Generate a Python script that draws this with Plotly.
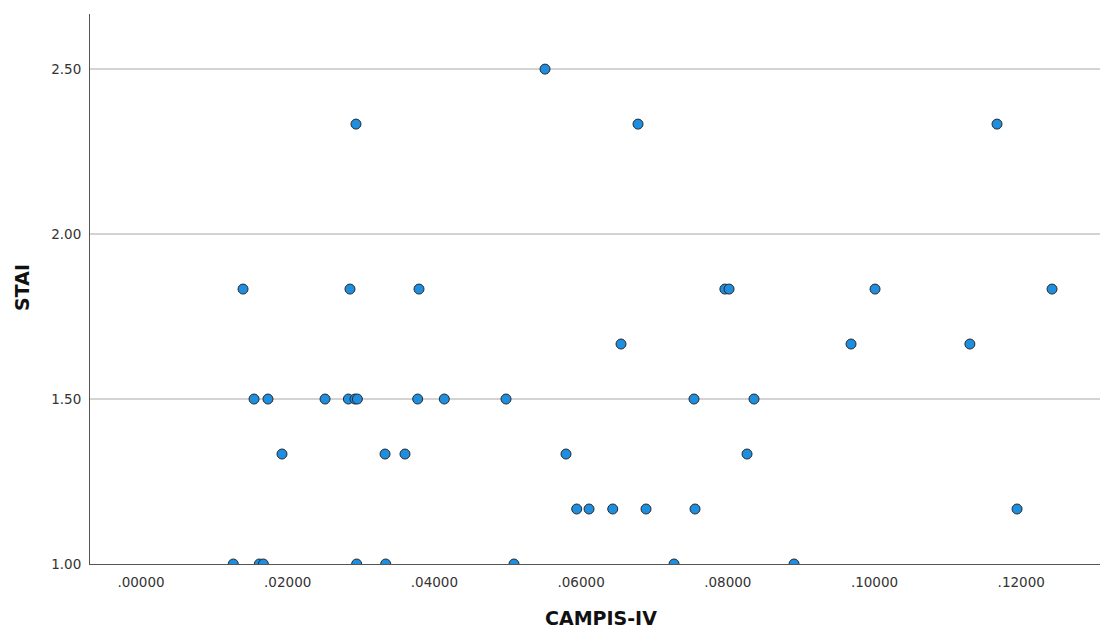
import plotly.graph_objects as go

# CAMPIS-IV (x) and STAI (y) values
campis_iv = [
    0.05508,
    0.02931, 0.06776, 0.11670,
    0.01391, 0.02849, 0.03790, 0.07960, 0.08017, 0.10007, 0.12420,
    0.06544, 0.09680, 0.11300,
    0.01541, 0.01731, 0.02509, 0.02827, 0.02918, 0.02950, 0.03772, 0.04135, 0.04976, 0.07539, 0.08357,
    0.01922, 0.03327, 0.03599, 0.05794, 0.08262,
    0.05940, 0.06108, 0.06431, 0.06885, 0.07553, 0.11943,
    0.01258, 0.01613, 0.01668, 0.02940, 0.03336, 0.05085, 0.07267, 0.08903,
]
stai = [
    2.5,
    2.3333, 2.3333, 2.3333,
    1.8333, 1.8333, 1.8333, 1.8333, 1.8333, 1.8333, 1.8333,
    1.6667, 1.6667, 1.6667,
    1.5, 1.5, 1.5, 1.5, 1.5, 1.5, 1.5, 1.5, 1.5, 1.5, 1.5,
    1.3333, 1.3333, 1.3333, 1.3333, 1.3333,
    1.1667, 1.1667, 1.1667, 1.1667, 1.1667, 1.1667,
    1.0, 1.0, 1.0, 1.0, 1.0, 1.0, 1.0, 1.0,
]

x_ticks = [0.0, 0.02, 0.04, 0.06, 0.08, 0.10, 0.12]
x_tick_text = [".00000", ".02000", ".04000", ".06000", ".08000", ".10000", ".12000"]
y_ticks = [1.0, 1.5, 2.0, 2.5]
y_tick_text = ["1.00", "1.50", "2.00", "2.50"]

x_title = "CAMPIS-IV"
y_title = "STAI"

fig = go.Figure()
fig.add_trace(go.Scatter(
    x=campis_iv, y=stai, mode="markers",
    marker=dict(size=10, color="#1e8ee0", line=dict(color="#2a2a2a", width=1)),
    showlegend=False, cliponaxis=True,
))

tick_font = dict(family="DejaVu Sans", size=13.5, color="#333333")
fig.update_layout(
    width=1100, height=630,
    margin=dict(l=90, r=0, t=14, b=66),
    paper_bgcolor="white", plot_bgcolor="white",
    xaxis=dict(
        range=[-0.006953, 0.13074], tickvals=x_ticks, ticktext=x_tick_text,
        showgrid=False, zeroline=False, showline=True, linecolor="#555555", linewidth=1,
        ticks="", tickfont=tick_font, ticklabelstandoff=6,
    ),
    yaxis=dict(
        range=[1.0, 2.667], tickvals=y_ticks, ticktext=y_tick_text,
        showgrid=True, gridcolor="#d3d3d3", gridwidth=1.5, zeroline=False,
        showline=True, linecolor="#555555", linewidth=1,
        ticks="", tickfont=tick_font, ticklabelstandoff=5,
    ),
    annotations=[
        dict(text="<b>%s</b>" % x_title, xref="paper", yref="paper",
             x=0.506, y=-0.098, xanchor="center", yanchor="middle", showarrow=False,
             font=dict(family="DejaVu Sans", size=19, color="#111111")),
        dict(text="<b>%s</b>" % y_title, xref="paper", yref="paper",
             x=-0.0673, y=0.502, xanchor="center", yanchor="middle", showarrow=False,
             textangle=-90,
             font=dict(family="DejaVu Sans", size=19, color="#111111")),
    ],
)

fig.write_html("out.html")
